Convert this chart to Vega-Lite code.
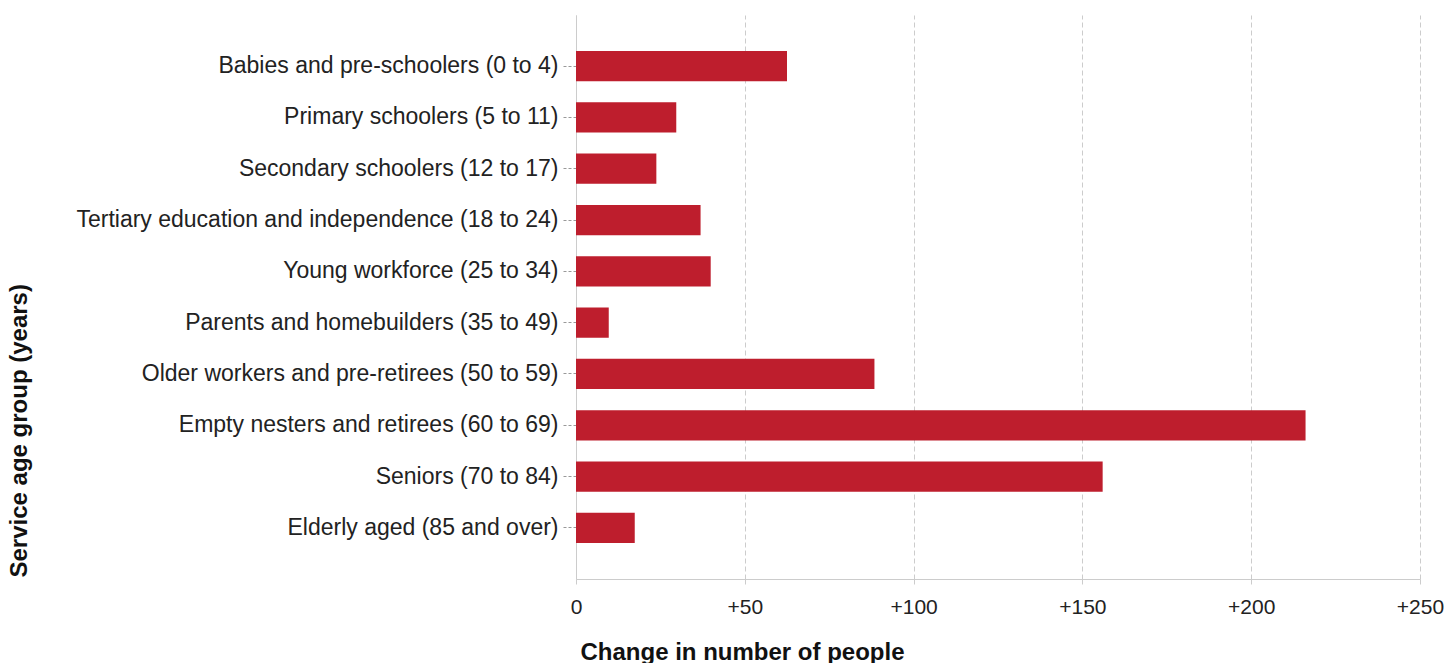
{
  "$schema": "https://vega.github.io/schema/vega-lite/v6.json",
  "autosize": {"type": "none"},
  "width": 844,
  "height": 564,
  "padding": {"left": 576, "top": 15, "right": 27, "bottom": 84},
  "background": "white",
  "config": {
    "view": {"stroke": null},
    "font": "Liberation Sans"
  },
  "data": {
    "values": [
      {"group": "Babies and pre-schoolers (0 to 4)", "change": 62.5},
      {"group": "Primary schoolers (5 to 11)", "change": 29.7},
      {"group": "Secondary schoolers (12 to 17)", "change": 23.8},
      {"group": "Tertiary education and independence (18 to 24)", "change": 36.9},
      {"group": "Young workforce (25 to 34)", "change": 39.9},
      {"group": "Parents and homebuilders (35 to 49)", "change": 9.7},
      {"group": "Older workers and pre-retirees (50 to 59)", "change": 88.4},
      {"group": "Empty nesters and retirees (60 to 69)", "change": 216.1},
      {"group": "Seniors (70 to 84)", "change": 156},
      {"group": "Elderly aged (85 and over)", "change": 17.4}
    ]
  },
  "mark": {"type": "bar", "color": "#be1e2d"},
  "encoding": {
    "y": {
      "field": "group",
      "type": "nominal",
      "sort": null,
      "scale": {"paddingInner": 0.41, "paddingOuter": 0.7},
      "axis": {
        "title": "Service age group (years)",
        "titleFont": "Liberation Sans",
        "titleFontSize": 24,
        "titleFontWeight": "bold",
        "titleColor": "#111",
        "titleAngle": -90,
        "titleX": -557,
        "titleY": 562,
        "titleAlign": "left",
        "titleBaseline": "middle",
        "labelFont": "Liberation Sans",
        "labelFontSize": 23,
        "labelColor": "#222",
        "labelPadding": 4,
        "labelLimit": 600,
        "tickSize": 14,
        "tickDash": [3, 2],
        "tickColor": "#999",
        "domainColor": "#ccc",
        "grid": false
      }
    },
    "x": {
      "field": "change",
      "type": "quantitative",
      "scale": {"domain": [0, 250], "nice": false},
      "axis": {
        "title": "Change in number of people",
        "titleFont": "Liberation Sans",
        "titleFontSize": 24,
        "titleFontWeight": "bold",
        "titleColor": "#111",
        "titleX": 4,
        "titleY": 73,
        "titleAlign": "left",
        "titleBaseline": "middle",
        "values": [0, 50, 100, 150, 200, 250],
        "labelExpr": "datum.value > 0 ? '+' + datum.value : '' + datum.value",
        "labelFont": "Liberation Sans",
        "labelFontSize": 21,
        "labelColor": "#222",
        "labelPadding": 12,
        "labelBaseline": "top",
        "labelFlush": false,
        "labelOverlap": false,
        "tickSize": 5,
        "tickColor": "#ccc",
        "domainColor": "#ccc",
        "grid": true,
        "gridDash": [5, 3],
        "gridColor": "#ccc"
      }
    }
  }
}
